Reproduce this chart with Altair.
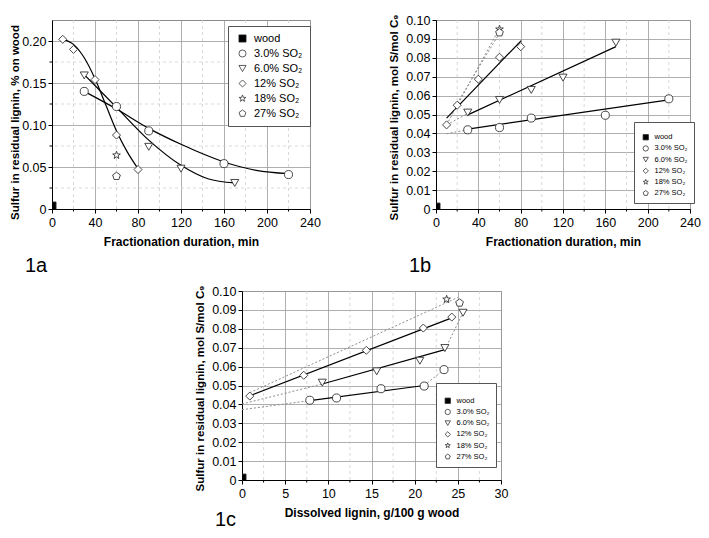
import altair as alt
import pandas as pd

FONT = "Liberation Sans"
series_names = ["wood", "3.0% SO₂", "6.0% SO₂", "12% SO₂", "18% SO₂", "27% SO₂"]
STAR = "M0,-1L0.235,-0.324L0.951,-0.309L0.38,0.124L0.588,0.809L0,0.4L-0.588,0.809L-0.38,0.124L-0.951,-0.309L-0.235,-0.324Z"
PENT = "M0,-1L0.951,-0.309L0.588,0.809L-0.588,0.809L-0.951,-0.309Z"
shape_range = ["square", "circle", "triangle-down", "diamond", STAR, PENT]
fill_range = ["black", "white", "white", "white", "white", "white"]
stroke_range = ["#222222", "#333333", "#333333", "#333333", "#333333", "#333333"]

# ---------------- Panel 1a ----------------
a_wood_x = [0]; a_wood_y = [0.0035]
a_s3_x = [30, 60, 90, 160, 220]; a_s3_y = [0.140, 0.122, 0.093, 0.054, 0.041]
a_s6_x = [30, 90, 120, 170]; a_s6_y = [0.159, 0.074, 0.048, 0.031]
a_s12_x = [10, 20, 40, 60, 80]; a_s12_y = [0.202, 0.190, 0.154, 0.088, 0.047]
a_s18_x = [60]; a_s18_y = [0.064]
a_s27_x = [60]; a_s27_y = [0.039]
a_c3_x = [30, 60, 90, 120, 160, 190, 220]
a_c3_y = [0.140, 0.119, 0.096, 0.077, 0.056, 0.046, 0.042]
a_c6_x = [30, 60, 90, 120, 145, 170]
a_c6_y = [0.160, 0.121, 0.082, 0.052, 0.036, 0.031]
a_c12_x = [10, 20, 30, 40, 50, 60, 70, 80]
a_c12_y = [0.202, 0.196, 0.180, 0.155, 0.124, 0.093, 0.068, 0.048]

# ---------------- Panel 1b ----------------
b_wood_x = [0]; b_wood_y = [0.001]
b_s3_x = [30, 60, 90, 160, 220]; b_s3_y = [0.0419, 0.0431, 0.0481, 0.0496, 0.0583]
b_s6_x = [30, 60, 90, 120, 170]; b_s6_y = [0.0510, 0.0577, 0.0630, 0.0695, 0.0880]
b_s12_x = [10, 20, 40, 60, 80]; b_s12_y = [0.0445, 0.0549, 0.0687, 0.0803, 0.0859]
b_s18_x = [60]; b_s18_y = [0.0951]
b_s27_x = [60]; b_s27_y = [0.0933]
b_l3_x = [30, 220]; b_l3_y = [0.0423, 0.0577]
b_l6_x = [30, 170]; b_l6_y = [0.0498, 0.0859]
b_l12_x = [10, 80.5]; b_l12_y = [0.0481, 0.0891]
b_d1_x = [10, 30]; b_d1_y = [0.0398, 0.0420]
b_d2_x = [10, 30]; b_d2_y = [0.0445, 0.0505]
b_d3_x = [10, 60]; b_d3_y = [0.0445, 0.0955]
b_d4_x = [20, 60]; b_d4_y = [0.0560, 0.0930]

# ---------------- Panel 1c ----------------
c_wood_x = [0]; c_wood_y = [0.001]
c_s3_x = [7.85, 10.95, 16.1, 21.1, 23.4]; c_s3_y = [0.0422, 0.0434, 0.0483, 0.0497, 0.0584]
c_s6_x = [9.3, 15.6, 20.6, 23.5, 25.6]; c_s6_y = [0.0515, 0.0575, 0.0631, 0.0698, 0.0885]
c_s12_x = [0.9, 7.15, 14.4, 21.0, 24.3]; c_s12_y = [0.0444, 0.0554, 0.0686, 0.0804, 0.0862]
c_s18_x = [23.7]; c_s18_y = [0.0956]
c_s27_x = [25.2]; c_s27_y = [0.0937]
c_l3_x = [7.85, 21.1]; c_l3_y = [0.0420, 0.0500]
c_l6_x = [9.3, 23.5]; c_l6_y = [0.0508, 0.0690]
c_l12_x = [0.9, 24.3]; c_l12_y = [0.0446, 0.0858]
c_d1_x = [0, 7.85]; c_d1_y = [0.0372, 0.0420]
c_d2_x = [0, 9.3]; c_d2_y = [0.0402, 0.0508]
c_d3_x = [0.9, 25.0]; c_d3_y = [0.0462, 0.0966]
c_d4_x = [21.1, 23.4]; c_d4_y = [0.0500, 0.0584]
c_d5_x = [23.5, 25.6]; c_d5_y = [0.0690, 0.0885]

# axis ticks / grid values
a_xticks = [0, 40, 80, 120, 160, 200, 240]; a_xminor = [20, 60, 100, 140, 180, 220]
a_yticks = [0, 0.05, 0.10, 0.15, 0.20]; a_yminor = [0.025, 0.075, 0.125, 0.175]
b_xticks = a_xticks; b_xminor = a_xminor
b_yticks = [0, 0.01, 0.02, 0.03, 0.04, 0.05, 0.06, 0.07, 0.08, 0.09, 0.10]
c_xticks = [0, 5, 10, 15, 20, 25, 30]; c_xminor = [2.5, 7.5, 12.5, 17.5, 22.5, 27.5]
c_yticks = b_yticks

x_title_ab = "Fractionation duration, min"
x_title_c = "Dissolved lignin, g/100 g wood"
y_title_a = "Sulfur in residual lignin, % on wood"
y_title_bc = "Sulfur in residual lignin, mol S/mol C₉"
panel_labels = ["1a", "1b", "1c"]


def pts_frame(groups):
    rows = []
    for name, xs, ys in groups:
        for x, y in zip(xs, ys):
            rows.append({"x": x, "y": y, "series": name})
    return pd.DataFrame(rows)


def seg_frame(segs):
    rows = []
    for i, (xs, ys) in enumerate(segs):
        for x, y in zip(xs, ys):
            rows.append({"x": x, "y": y, "seg": i})
    return pd.DataFrame(rows)


def panel(pts, curves, solids, dots, xdom, ydom, xvals, yvals, xminor, yminor,
          xtitle, ytitle, title_x, title_y, legend, label, label_y, W, H):
    xs = alt.Scale(domain=xdom, nice=False, zero=False)
    ys = alt.Scale(domain=ydom, nice=False, zero=False)
    xaxis = alt.Axis(values=xvals, title=xtitle, grid=True, gridColor="#9a9a9a",
                     gridWidth=0.8, domainColor="black", tickColor="black",
                     tickSize=4, labelFontSize=12.5, labelFont=FONT,
                     labelColor="black", labelPadding=3, labelFlush=False,
                     labelOverlap=False, titleFont=FONT, titleFontSize=12,
                     titleFontWeight="bold", titleColor="black",
                     titleBaseline="alphabetic", titleY=36)
    yaxis = alt.Axis(values=yvals, title=ytitle, grid=True, gridColor="#9a9a9a",
                     gridWidth=0.8, domainColor="black", tickColor="black",
                     tickSize=4, labelFontSize=12.5, labelFont=FONT,
                     labelColor="black", labelPadding=2, labelFlush=False,
                     labelOverlap=False,
                     labelExpr="datum.value == 0 ? '0' : format(datum.value, '.2f')",
                     titleFont=FONT, titleFontSize=11.5, titleFontWeight="bold",
                     titleColor="black", titleBaseline="alphabetic",
                     titleX=title_x, titleY=title_y)
    X = lambda f: alt.X(f, scale=xs, axis=xaxis)
    Y = lambda f: alt.Y(f, scale=ys, axis=yaxis)
    layers = []
    layers.append(alt.Chart(pd.DataFrame({"v": xminor})).mark_rule(
        color="#cfcfcf", strokeDash=[3, 3], strokeWidth=0.8).encode(x=X("v:Q")))
    if yminor:
        layers.append(alt.Chart(pd.DataFrame({"v": yminor})).mark_rule(
            color="#cfcfcf", strokeDash=[3, 3], strokeWidth=0.8).encode(y=Y("v:Q")))
    if curves is not None:
        layers.append(alt.Chart(curves).mark_line(
            interpolate="monotone", color="black", strokeWidth=1.2).encode(
            x=X("x:Q"), y=Y("y:Q"), detail="seg:N"))
    if solids is not None:
        layers.append(alt.Chart(solids).mark_line(color="black", strokeWidth=1.2).encode(
            x=X("x:Q"), y=Y("y:Q"), detail="seg:N"))
    if dots is not None:
        layers.append(alt.Chart(dots).mark_line(
            color="#8c8c8c", strokeDash=[2, 2], strokeWidth=1).encode(
            x=X("x:Q"), y=Y("y:Q"), detail="seg:N"))
    # minor ticks
    layers.append(alt.Chart(pd.DataFrame({"v": xminor})).mark_rule(
        color="black", strokeWidth=1).encode(
        x=X("v:Q"), y=alt.value(H), y2=alt.value(H + 2.5)))
    if yminor:
        layers.append(alt.Chart(pd.DataFrame({"v": yminor})).mark_rule(
            color="black", strokeWidth=1).encode(
            y=Y("v:Q"), x=alt.value(0), x2=alt.value(-2.5)))
    layers.append(alt.Chart(pd.DataFrame({"t": [label]})).mark_text(
        align="left", baseline="alphabetic", fontSize=20, font=FONT,
        color="black").encode(x=alt.value(-27), y=alt.value(label_y), text="t:N"))
    # data points with legend
    layers.append(alt.Chart(pts).mark_point(
        filled=False, strokeWidth=0.9, size=65, opacity=1, clip=True).encode(
        x=X("x:Q"), y=Y("y:Q"),
        shape=alt.Shape("series:N", scale=alt.Scale(domain=series_names, range=shape_range),
                        legend=legend),
        fill=alt.Fill("series:N", scale=alt.Scale(domain=series_names, range=fill_range),
                      legend=legend),
        stroke=alt.Stroke("series:N", scale=alt.Scale(domain=series_names, range=stroke_range),
                          legend=legend)))
    return alt.layer(*layers).properties(width=W, height=H)


def make_legend(lx, ly, fs, ss, pad, rowpad, soff, loff, title_fs=None, title_pad=0):
    kw = dict(orient="none", legendX=lx, legendY=ly, labelFont=FONT, labelFontSize=fs,
              labelColor="black", symbolSize=ss, padding=pad, rowPadding=rowpad,
              symbolOffset=soff, labelOffset=loff, strokeColor="#555555",
              fillColor="white", symbolStrokeWidth=0.8)
    if title_fs:
        kw.update(title=" ", titleFontSize=title_fs, titlePadding=title_pad)
    else:
        kw.update(title=None)
    return alt.Legend(**kw)


pa = panel(
    pts_frame([("wood", a_wood_x, a_wood_y), (series_names[1], a_s3_x, a_s3_y),
               (series_names[2], a_s6_x, a_s6_y), (series_names[3], a_s12_x, a_s12_y),
               (series_names[4], a_s18_x, a_s18_y), (series_names[5], a_s27_x, a_s27_y)]),
    seg_frame([(a_c3_x, a_c3_y), (a_c6_x, a_c6_y), (a_c12_x, a_c12_y)]),
    None, None, [0, 240], [0, 0.225], a_xticks, a_yticks, a_xminor, a_yminor,
    x_title_ab, y_title_a, -34, 102,
    make_legend(176, 6, 11, 50, 7, 3, 2, 6), panel_labels[0], 252, 258, 189)

pb = panel(
    pts_frame([("wood", b_wood_x, b_wood_y), (series_names[1], b_s3_x, b_s3_y),
               (series_names[2], b_s6_x, b_s6_y), (series_names[3], b_s12_x, b_s12_y),
               (series_names[4], b_s18_x, b_s18_y), (series_names[5], b_s27_x, b_s27_y)]),
    None,
    seg_frame([(b_l3_x, b_l3_y), (b_l6_x, b_l6_y), (b_l12_x, b_l12_y)]),
    seg_frame([(b_d1_x, b_d1_y), (b_d2_x, b_d2_y), (b_d3_x, b_d3_y), (b_d4_x, b_d4_y)]),
    [0, 240], [0, 0.10], b_xticks, b_yticks, b_xminor, [],
    x_title_ab, y_title_bc, -39, 97,
    make_legend(198, 102, 7.5, 28, 6, 2.2, 2, 5, 5, 0.5), panel_labels[1], 252, 254, 189)

pc = panel(
    pts_frame([("wood", c_wood_x, c_wood_y), (series_names[1], c_s3_x, c_s3_y),
               (series_names[2], c_s6_x, c_s6_y), (series_names[3], c_s12_x, c_s12_y),
               (series_names[4], c_s18_x, c_s18_y), (series_names[5], c_s27_x, c_s27_y)]),
    None,
    seg_frame([(c_l3_x, c_l3_y), (c_l6_x, c_l6_y), (c_l12_x, c_l12_y)]),
    seg_frame([(c_d1_x, c_d1_y), (c_d2_x, c_d2_y), (c_d3_x, c_d3_y), (c_d4_x, c_d4_y),
               (c_d5_x, c_d5_y)]),
    [0, 30], [0, 0.10], c_xticks, c_yticks, c_xminor, [],
    x_title_c, y_title_bc, -39, 97,
    make_legend(194, 92, 7.5, 28, 6, 2.2, 2, 5, 7, 1), panel_labels[2], 235, 259, 189)

spacer = alt.Chart(pd.DataFrame({"x": [0]})).mark_point(opacity=0, size=1).encode(
    x=alt.X("x:Q", axis=None, scale=alt.Scale(domain=[-1, 1])),
    y=alt.Y("x:Q", axis=None, scale=alt.Scale(domain=[-1, 1]))).properties(
    width=156, height=40, view=alt.ViewBackground(strokeOpacity=0))

ind_s = dict(shape="independent", fill="independent", stroke="independent")
top = alt.hconcat(pa, pb, spacing=126, bounds="flush").resolve_scale(**ind_s).resolve_legend(**ind_s)
bottom = alt.hconcat(spacer, pc, spacing=34, bounds="flush").resolve_scale(**ind_s).resolve_legend(**ind_s)
chart = alt.vconcat(top, bottom, spacing=7).resolve_scale(**ind_s).resolve_legend(**ind_s)
chart = chart.properties(padding={"left": 0, "top": 5, "right": 0, "bottom": 0},
                         background="white").configure_view(stroke="#8a8a8a", strokeWidth=1)

chart.save("out.html", embed_options={"renderer": "svg", "actions": False})
